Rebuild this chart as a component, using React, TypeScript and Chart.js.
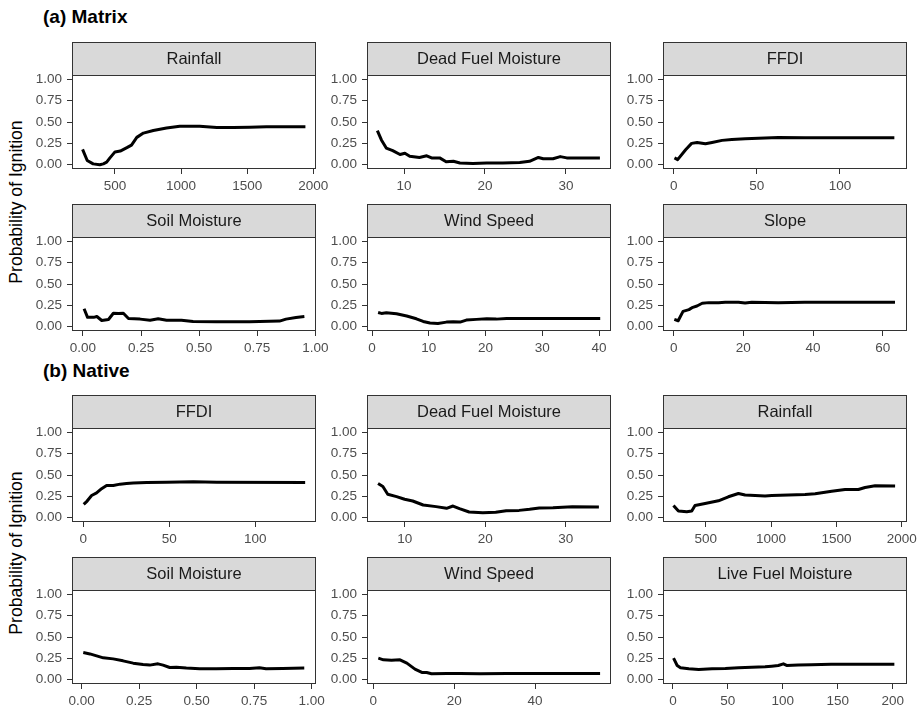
import React, { useEffect, useRef } from "react";
import { Chart, registerables } from "chart.js";

Chart.register(...registerables);

const FONT = '"Liberation Sans", Arial, Helvetica, sans-serif';

// ---------- (a) Matrix ----------
const matrixRainfallX = [255, 290, 335, 385, 412, 437, 462, 500, 540, 590, 625, 665, 715, 790, 890, 990, 1140, 1270, 1395, 1520, 1645, 1775, 1940];
const matrixRainfallY = [0.18, 0.05, 0.01, 0.0, 0.01, 0.03, 0.08, 0.15, 0.16, 0.2, 0.23, 0.32, 0.37, 0.4, 0.43, 0.45, 0.45, 0.435, 0.435, 0.44, 0.445, 0.445, 0.445];

const matrixDfmX = [6.7, 7.2, 7.8, 8.6, 9.5, 10.1, 10.7, 11.9, 12.8, 13.4, 14.4, 15.2, 16.1, 16.9, 18.5, 20.2, 22.2, 24.3, 25.5, 26.6, 27.2, 28.4, 29.3, 30.1, 34.2];
const matrixDfmY = [0.4, 0.29, 0.195, 0.165, 0.12, 0.135, 0.1, 0.085, 0.105, 0.08, 0.08, 0.035, 0.04, 0.02, 0.015, 0.02, 0.02, 0.025, 0.04, 0.085, 0.07, 0.07, 0.095, 0.08, 0.08];

const matrixFfdiX = [0.5, 2.4, 7.2, 10.8, 14.1, 19.1, 23.1, 29.1, 35, 43, 51, 63, 79, 99, 132.7];
const matrixFfdiY = [0.08, 0.06, 0.175, 0.25, 0.26, 0.245, 0.26, 0.285, 0.295, 0.305, 0.31, 0.32, 0.315, 0.315, 0.315];

const matrixSoilX = [0.005, 0.02, 0.046, 0.06, 0.081, 0.11, 0.131, 0.153, 0.174, 0.196, 0.246, 0.289, 0.324, 0.36, 0.424, 0.474, 0.574, 0.717, 0.846, 0.874, 0.917, 0.953];
const matrixSoilY = [0.21, 0.11, 0.11, 0.12, 0.073, 0.085, 0.158, 0.154, 0.158, 0.097, 0.089, 0.077, 0.093, 0.077, 0.077, 0.062, 0.058, 0.058, 0.066, 0.089, 0.108, 0.12];

const matrixWindX = [1.06, 1.65, 2.5, 4.3, 6.1, 7.8, 9, 10.2, 11.6, 13.1, 14.3, 15.5, 16.6, 18.4, 20.2, 21.9, 23.7, 26.1, 31.9, 40.2];
const matrixWindY = [0.167, 0.156, 0.163, 0.152, 0.125, 0.093, 0.062, 0.043, 0.039, 0.054, 0.058, 0.054, 0.078, 0.086, 0.093, 0.089, 0.097, 0.097, 0.097, 0.097];

const matrixSlopeX = [0.2, 1.3, 2.7, 4.4, 5.5, 6.7, 8.2, 10.1, 12.9, 14.8, 18.6, 20.5, 22.4, 30, 37.6, 63.5];
const matrixSlopeY = [0.086, 0.07, 0.18, 0.2, 0.227, 0.243, 0.275, 0.282, 0.282, 0.286, 0.286, 0.278, 0.286, 0.282, 0.286, 0.286];

// ---------- (b) Native ----------
const nativeFfdiX = [0.3, 2.3, 4.9, 7.8, 10.7, 13.6, 17.5, 21.4, 25.2, 29.1, 36.9, 48.5, 64, 77.7, 129];
const nativeFfdiY = [0.156, 0.195, 0.26, 0.29, 0.34, 0.377, 0.377, 0.393, 0.4, 0.405, 0.412, 0.416, 0.42, 0.416, 0.412];

const nativeDfmX = [6.7, 7.3, 7.9, 9.0, 10, 11, 12.3, 13.9, 15.2, 16, 16.8, 18, 19.7, 21.3, 22.6, 24.2, 25.5, 26.7, 28.4, 30.8, 34.1];
const nativeDfmY = [0.4, 0.365, 0.275, 0.247, 0.216, 0.196, 0.149, 0.13, 0.11, 0.137, 0.106, 0.067, 0.059, 0.063, 0.082, 0.086, 0.098, 0.114, 0.118, 0.129, 0.125];

const nativeRainfallX = [253, 291, 355, 393, 418, 495, 597, 673, 750, 801, 878, 954, 1005, 1133, 1260, 1337, 1464, 1566, 1668, 1719, 1796, 1949];
const nativeRainfallY = [0.144, 0.078, 0.07, 0.078, 0.144, 0.167, 0.198, 0.245, 0.284, 0.265, 0.26, 0.253, 0.26, 0.265, 0.272, 0.28, 0.31, 0.33, 0.33, 0.354, 0.374, 0.37];

const nativeSoilX = [0.007, 0.036, 0.065, 0.094, 0.137, 0.18, 0.224, 0.267, 0.296, 0.332, 0.354, 0.383, 0.412, 0.455, 0.513, 0.585, 0.658, 0.73, 0.773, 0.802, 0.874, 0.968];
const nativeSoilY = [0.318, 0.302, 0.279, 0.256, 0.244, 0.221, 0.194, 0.178, 0.171, 0.186, 0.171, 0.143, 0.147, 0.136, 0.128, 0.128, 0.132, 0.132, 0.14, 0.128, 0.132, 0.136];

const nativeWindX = [1.24, 2.5, 4.5, 6.6, 8.3, 10.3, 12, 13.2, 14.4, 18.2, 21.5, 26.4, 33, 56.1];
const nativeWindY = [0.252, 0.233, 0.229, 0.233, 0.194, 0.124, 0.085, 0.085, 0.07, 0.074, 0.074, 0.07, 0.074, 0.074];

const nativeLfmX = [0.6, 3.9, 6.9, 14.5, 23.5, 35.6, 47.7, 59.7, 71.8, 83.9, 89.9, 95.9, 100.5, 103.5, 114, 126, 144, 168, 201.5];
const nativeLfmY = [0.252, 0.167, 0.14, 0.128, 0.12, 0.128, 0.132, 0.14, 0.147, 0.151, 0.159, 0.167, 0.186, 0.167, 0.171, 0.174, 0.182, 0.182, 0.182];

// ---------- tick values ----------
const yTicks = [0, 0.25, 0.5, 0.75, 1];
const rainfallTicks = [500, 1000, 1500, 2000];
const dfmTicks = [10, 20, 30];
const ffdiTicks = [0, 50, 100];
const soilTicks = [0, 0.25, 0.5, 0.75, 1];
const windTicksA = [0, 10, 20, 30, 40];
const windTicksB = [0, 20, 40];
const slopeTicks = [0, 20, 40, 60];
const lfmTicks = [0, 50, 100, 150, 200];

type PanelSpec = {
  label: string;
  xs: number[];
  ys: number[];
  xMin: number;
  xMax: number;
  xTicks: number[];
  xDec: number;
  col: number;
  row: number;
};

const panels: PanelSpec[] = [
  { label: "Rainfall", xs: matrixRainfallX, ys: matrixRainfallY, xMin: 175, xMax: 2020, xTicks: rainfallTicks, xDec: 0, col: 0, row: 0 },
  { label: "Dead Fuel Moisture", xs: matrixDfmX, ys: matrixDfmY, xMin: 5.42, xMax: 35.57, xTicks: dfmTicks, xDec: 0, col: 1, row: 0 },
  { label: "FFDI", xs: matrixFfdiX, ys: matrixFfdiY, xMin: -6.4, xMax: 140.3, xTicks: ffdiTicks, xDec: 0, col: 2, row: 0 },
  { label: "Soil Moisture", xs: matrixSoilX, ys: matrixSoilY, xMin: -0.047, xMax: 1.003, xTicks: soilTicks, xDec: 2, col: 0, row: 1 },
  { label: "Wind Speed", xs: matrixWindX, ys: matrixWindY, xMin: -0.9, xMax: 42.1, xTicks: windTicksA, xDec: 0, col: 1, row: 1 },
  { label: "Slope", xs: matrixSlopeX, ys: matrixSlopeY, xMin: -3.05, xMax: 66.95, xTicks: slopeTicks, xDec: 0, col: 2, row: 1 },
  { label: "FFDI", xs: nativeFfdiX, ys: nativeFfdiY, xMin: -6.5, xMax: 135.3, xTicks: ffdiTicks, xDec: 0, col: 0, row: 2 },
  { label: "Dead Fuel Moisture", xs: nativeDfmX, ys: nativeDfmY, xMin: 5.33, xMax: 35.6, xTicks: dfmTicks, xDec: 0, col: 1, row: 2 },
  { label: "Rainfall", xs: nativeRainfallX, ys: nativeRainfallY, xMin: 173, xMax: 2040, xTicks: rainfallTicks, xDec: 0, col: 2, row: 2 },
  { label: "Soil Moisture", xs: nativeSoilX, ys: nativeSoilY, xMin: -0.042, xMax: 1.019, xTicks: soilTicks, xDec: 2, col: 0, row: 3 },
  { label: "Wind Speed", xs: nativeWindX, ys: nativeWindY, xMin: -1.56, xMax: 58.8, xTicks: windTicksB, xDec: 0, col: 1, row: 3 },
  { label: "Live Fuel Moisture", xs: nativeLfmX, ys: nativeLfmY, xMin: -9, xMax: 213, xTicks: lfmTicks, xDec: 0, col: 2, row: 3 },
];

// ---------- layout ----------
const COL_LEFT = [72, 367, 663];
const PANEL_TOP = [75, 237, 428, 590];
const PANEL_W = 244;
const PANEL_H = 94;
const STRIP_H = 33;
const Y_AXIS_W = 45;
const X_AXIS_H = 26;
const PAD_R = 22;
const CANVAS_W = Y_AXIS_W + PANEL_W + PAD_R;
const CANVAS_H = STRIP_H + PANEL_H + X_AXIS_H;

const facetPlugin = {
  id: "facet",
  afterDraw(chart: any, _args: any, opts: any) {
    const { ctx, chartArea: a } = chart;
    const w = a.right - a.left;
    ctx.save();
    ctx.fillStyle = "#d9d9d9";
    ctx.fillRect(a.left, a.top - STRIP_H, w, STRIP_H);
    ctx.strokeStyle = "#333333";
    ctx.lineWidth = 1;
    ctx.strokeRect(a.left + 0.5, a.top - STRIP_H + 0.5, w - 1, STRIP_H);
    ctx.strokeRect(a.left + 0.5, a.top + 0.5, w - 1, a.bottom - a.top - 1);
    ctx.fillStyle = "#1a1a1a";
    ctx.font = `16.5px ${FONT}`;
    ctx.textAlign = "center";
    ctx.textBaseline = "middle";
    ctx.fillText(opts.label, (a.left + a.right) / 2, a.top - STRIP_H / 2 + 1);
    ctx.restore();
  },
};

function Panel({ spec }: { spec: PanelSpec }) {
  const ref = useRef<HTMLCanvasElement>(null);
  useEffect(() => {
    const tickFont = { family: FONT, size: 13.5 };
    const chart = new Chart(ref.current as HTMLCanvasElement, {
      type: "line",
      data: {
        datasets: [
          {
            data: spec.xs.map((x, i) => ({ x, y: spec.ys[i] })),
            borderColor: "#000000",
            borderWidth: 3,
            pointRadius: 0,
            tension: 0,
            fill: false,
            borderJoinStyle: "round",
          },
        ],
      },
      options: {
        responsive: false,
        animation: false,
        events: [],
        layout: { padding: { top: STRIP_H, right: PAD_R, left: 0, bottom: 0 } },
        plugins: {
          legend: { display: false },
          tooltip: { enabled: false },
          facet: { label: spec.label },
        } as any,
        scales: {
          x: {
            type: "linear",
            bounds: "data",
            min: spec.xMin,
            max: spec.xMax,
            afterBuildTicks: (s: any) => {
              s.ticks = spec.xTicks.map((v) => ({ value: v }));
            },
            afterFit: (s: any) => {
              s.height = X_AXIS_H;
            },
            ticks: {
              autoSkip: false,
              maxRotation: 0,
              minRotation: 0,
              padding: 4,
              color: "#4d4d4d",
              font: tickFont,
              callback: (v: any) => Number(v).toFixed(spec.xDec),
            },
            grid: { drawOnChartArea: false, drawTicks: true, tickLength: 5, color: "#333333", lineWidth: 1 },
            border: { display: false },
          },
          y: {
            type: "linear",
            bounds: "data",
            min: -0.05,
            max: 1.05,
            afterBuildTicks: (s: any) => {
              s.ticks = yTicks.map((v) => ({ value: v }));
            },
            afterFit: (s: any) => {
              s.width = Y_AXIS_W;
            },
            ticks: {
              autoSkip: false,
              padding: 5,
              color: "#4d4d4d",
              font: tickFont,
              callback: (v: any) => Number(v).toFixed(2),
            },
            grid: { drawOnChartArea: false, drawTicks: true, tickLength: 5, color: "#333333", lineWidth: 1 },
            border: { display: false },
          },
        },
      } as any,
      plugins: [facetPlugin as any],
    });
    return () => chart.destroy();
  }, [spec]);
  return (
    <canvas
      ref={ref}
      width={CANVAS_W}
      height={CANVAS_H}
      style={{
        position: "absolute",
        left: COL_LEFT[spec.col] - Y_AXIS_W,
        top: PANEL_TOP[spec.row] - STRIP_H,
        width: CANVAS_W,
        height: CANVAS_H,
      }}
    />
  );
}

function YTitle({ cy }: { cy: number }) {
  return (
    <div
      style={{
        position: "absolute",
        left: 16 - 150,
        top: cy - 10,
        width: 300,
        height: 20,
        lineHeight: "20px",
        fontSize: 17.6,
        fontFamily: FONT,
        color: "#000",
        textAlign: "center",
        whiteSpace: "nowrap",
        transform: "rotate(-90deg)",
        transformOrigin: "50% 50%",
      }}
    >
      Probability of Ignition
    </div>
  );
}

function SectionTitle({ text, top }: { text: string; top: number }) {
  return (
    <div
      style={{
        position: "absolute",
        left: 43,
        top,
        fontSize: 19,
        lineHeight: "19px",
        fontWeight: "bold",
        fontFamily: FONT,
        color: "#000",
        whiteSpace: "nowrap",
      }}
    >
      {text}
    </div>
  );
}

export default function App() {
  return (
    <div
      style={{
        position: "fixed",
        left: 0,
        top: 0,
        width: 920,
        height: 710,
        background: "#ffffff",
        overflow: "hidden",
      }}
    >
      <SectionTitle text="(a) Matrix" top={7} />
      <SectionTitle text="(b) Native" top={360.6} />
      <YTitle cy={201.5} />
      <YTitle cy={553} />
      {panels.map((p, i) => (
        <Panel key={i} spec={p} />
      ))}
    </div>
  );
}
